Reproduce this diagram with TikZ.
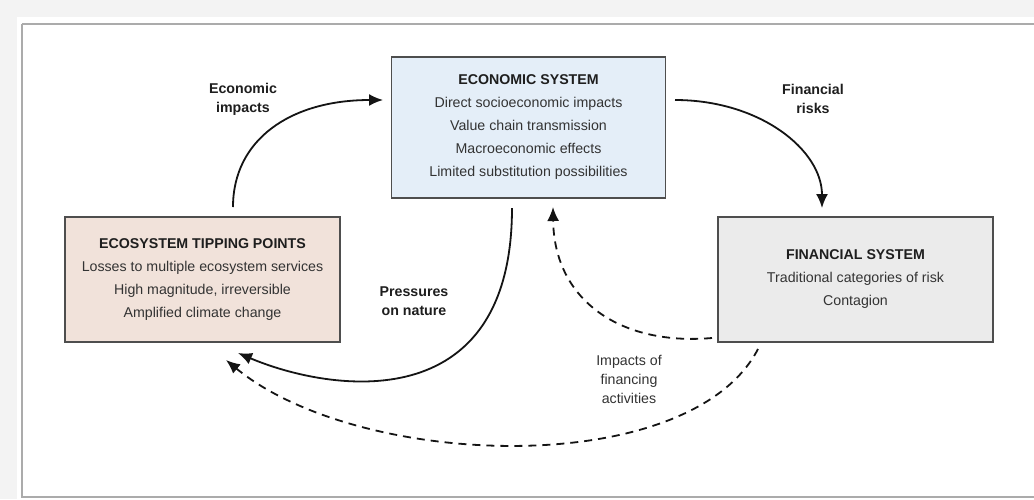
\documentclass[tikz,border=0pt]{standalone}
\usepackage{fontspec}
\setmainfont{Liberation Sans}
\usetikzlibrary{arrows.meta}
\definecolor{econfill}{HTML}{E4EEF8}
\definecolor{ecofill}{HTML}{F1E2DA}
\definecolor{finfill}{HTML}{EBEBEB}
\definecolor{boxline}{HTML}{4E4E4E}
\definecolor{txt}{HTML}{333333}
\definecolor{ttl}{HTML}{1E1E1E}
\definecolor{pagebg}{HTML}{F3F3F3}
\definecolor{framecol}{HTML}{ABABAB}
\begin{document}
\begin{tikzpicture}[x=1pt,y=-1pt,
  sysbox/.style={draw=boxline,line width=1.4pt,rectangle,inner sep=0pt,align=center,
    text=txt,font=\fontsize{14.2}{23}\selectfont},
  flowlabel/.style={align=center,text=ttl,font=\fontsize{14.2}{19}\selectfont\bfseries},
  plainlabel/.style={align=center,text=txt,font=\fontsize{14.2}{19}\selectfont},
  flow/.style={draw=black!92,line width=1.8pt,-{Latex[length=14pt,width=12pt]}},
  dflow/.style={flow,dash pattern=on 8pt off 6pt}]
\useasboundingbox (0,0) rectangle (1034,499);
\fill[pagebg] (0,0) rectangle (1034,499);
\fill[white] (17,17) rectangle (1034,499);
\draw[framecol,line width=1.5pt] (22,24) -- (1040,24) (22,24) -- (22,497) -- (1040,497);

\node[sysbox,fill=econfill,minimum width=274pt,minimum height=141pt] (econ) at (528.5,127.5)
  {{\bfseries\color{ttl}ECONOMIC SYSTEM}\\Direct socioeconomic impacts\\Value chain transmission\\Macroeconomic effects\\Limited substitution possibilities};
\node[sysbox,fill=ecofill,minimum width=275pt,minimum height=125pt] (eco) at (202.5,279.5)
  {{\bfseries\color{ttl}ECOSYSTEM TIPPING POINTS}\\Losses to multiple ecosystem services\\High magnitude, irreversible\\Amplified climate change};
\node[sysbox,fill=finfill,minimum width=275pt,minimum height=125pt] (fin) at (855.5,279.5)
  {{\bfseries\color{ttl}FINANCIAL SYSTEM}\\Traditional categories of risk\\Contagion};

\node[flowlabel] (l1) at (243,99) {Economic\\impacts};
\node[flowlabel] (l2) at (813,99) {Financial\\risks};
\node[flowlabel] (l3) at (414,301) {Pressures\\on nature};
\node[plainlabel] (l4) at (629,379) {Impacts of\\financing\\activities};

\coordinate (a1s) at (233,207);
\coordinate (a1e) at (383,100);
\coordinate (a2s) at (675,100);
\coordinate (a2e) at (822,208);
\coordinate (a3s) at (512,208);
\coordinate (a3e) at (238,353);
\coordinate (a4s) at (712,338);
\coordinate (a4e) at (553,207);
\coordinate (a5s) at (758,349);
\coordinate (a5e) at (226,360);

\draw[flow] (a1s) .. controls (233,140) and (290,100) .. (a1e);
\draw[flow] (a2s) .. controls (760,100) and (822,150) .. (a2e);
\draw[flow] (a3s) .. controls (512,420) and (330,392) .. (a3e);
\draw[dflow] (a4s) .. controls (620,346) and (554,300) .. (a4e);
\draw[dflow] (a5s) .. controls (690,480) and (360,470) .. (a5e);
\end{tikzpicture}
\end{document}
